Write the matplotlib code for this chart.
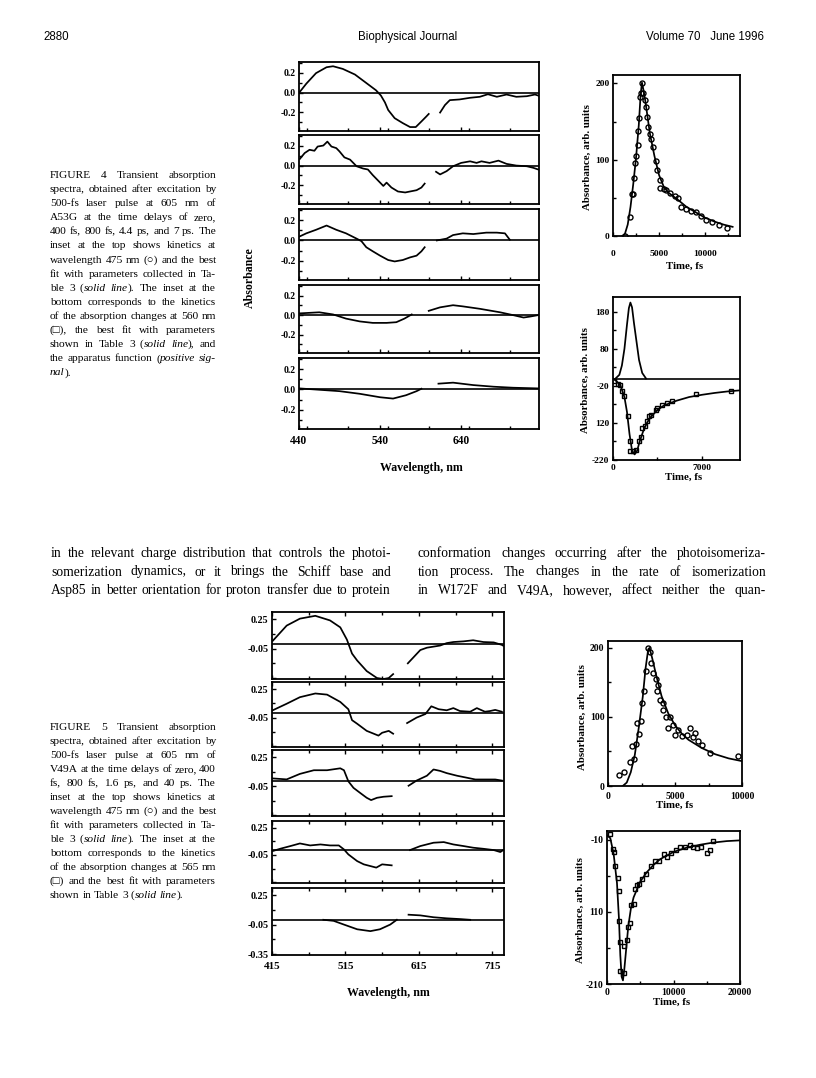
import matplotlib
matplotlib.use("Agg")
import matplotlib.pyplot as plt
from matplotlib.ticker import FixedLocator, FixedFormatter, MultipleLocator

# ---------------------------------------------------------------
# data
# ---------------------------------------------------------------
# Figure 4 (A53G) spectra: each panel = list of segments of (nm, dA)
f4_p1 = [
    [(441, 0.007), (449, 0.09), (461, 0.197), (474, 0.257), (482, 0.267), (494, 0.24),
     (509, 0.183), (523, 0.097), (535, 0.023), (541, -0.03), (546, -0.1), (550, -0.177),
     (558, -0.26), (568, -0.31), (577, -0.35), (584, -0.35), (591, -0.293), (597, -0.243), (600, -0.217)],
    [(614, -0.203), (620, -0.127), (626, -0.077), (638, -0.07), (651, -0.053), (663, -0.043),
     (673, -0.017), (684, -0.043), (696, -0.02), (708, -0.043), (721, -0.037), (731, -0.02), (736, -0.033)],
]
f4_p2 = [
    [(441, 0.067), (447, 0.127), (453, 0.16), (459, 0.15), (463, 0.193), (470, 0.203), (475, 0.243),
     (480, 0.193), (486, 0.177), (490, 0.143), (496, 0.083), (503, 0.06), (511, -0.007), (519, -0.03),
     (525, -0.04), (531, -0.097), (540, -0.173), (544, -0.207), (548, -0.173), (554, -0.223),
     (562, -0.263), (571, -0.273), (577, -0.263), (585, -0.25), (591, -0.223), (595, -0.183)],
    [(609, -0.063), (614, -0.09), (622, -0.057), (630, -0.007), (640, 0.027), (651, 0.043),
     (659, 0.027), (665, 0.043), (675, 0.027), (686, 0.05), (696, 0.017), (708, 0.0),
     (721, -0.007), (729, -0.023), (735, -0.04)],
]
f4_p3 = [
    [(441, 0.04), (449, 0.07), (461, 0.105), (474, 0.147), (486, 0.105), (498, 0.07), (511, 0.018),
     (517, -0.007), (523, -0.067), (531, -0.107), (540, -0.15), (550, -0.193), (558, -0.207),
     (568, -0.193), (577, -0.167), (585, -0.15), (591, -0.107), (595, -0.067)],
    [(610, 0.0), (622, 0.018), (630, 0.053), (642, 0.07), (655, 0.063), (671, 0.077),
     (684, 0.077), (694, 0.07), (700, 0.007)],
]
f4_p4 = [
    [(441, 0.018), (465, 0.029), (482, 0.007), (498, -0.036), (515, -0.065), (531, -0.08),
     (548, -0.08), (560, -0.073), (570, -0.036), (579, 0.007)],
    [(600, 0.044), (614, 0.08), (630, 0.102), (642, 0.09), (663, 0.065), (688, 0.029),
     (704, 0.0), (717, -0.025), (725, -0.015), (735, 0.0)],
]
f4_p5 = [
    [(441, 0.01), (490, -0.017), (515, -0.043), (540, -0.077), (556, -0.09), (572, -0.057),
     (585, -0.017), (591, 0.007)],
    [(612, 0.057), (630, 0.067), (655, 0.043), (680, 0.027), (704, 0.017), (736, 0.01)],
]
f4_panels = [f4_p1, f4_p2, f4_p3, f4_p4, f4_p5]

# Figure 4 top inset: kinetics at 475 nm (circles) and fit
f4_top_t = [1340, 1810, 2030, 2170, 2280, 2390, 2540, 2720, 2720, 2830, 2900, 3080, 3190, 3260,
            3440, 3620, 3730, 3800, 3990, 4090, 4350, 4640, 4780, 5070, 5140, 5510, 5800, 6160,
            6700, 7070, 7430, 7970, 8510, 9060, 9600, 10140, 10800, 11500, 12400]
f4_top_v = [0, 25, 55, 55, 76, 96, 105, 119, 137, 155, 182, 188, 200, 188,
            178, 169, 156, 143, 134, 127, 116, 98, 86, 74, 63, 62, 60, 57,
            53, 50, 38, 36, 33, 31, 26, 21, 18, 15, 11]
f4_fit_t = [1000, 1300, 1600, 1900, 2200, 2500, 2800, 3000, 3150, 3300, 3500, 4000, 4500,
            5000, 5500, 6000, 7000, 8000, 9000, 10000, 11000, 12000, 13000]
f4_fit_v = [0, 3, 15, 38, 68, 102, 145, 185, 201, 192, 178, 135, 105,
            80, 65, 57, 48, 38, 31, 24, 19, 15, 12]

# Figure 4 bottom inset: kinetics at 560 nm (squares), fit, apparatus function
f4_bot_t = [80, 400, 580, 710, 870, 1190, 1320, 1370, 1580, 1850, 2030, 2190, 2300, 2530,
            2640, 2850, 3030, 3380, 3480, 3830, 4220, 4620, 6540, 9300]
f4_bot_v = [-6, -15, -17, -33, -47, -100, -170, -195, -195, -193, -170, -159, -134, -128,
            -116, -101, -98, -85, -80, -71, -67, -62, -43, -35]
f4_bfit_t = [0, 300, 600, 900, 1100, 1300, 1500, 1700, 1900, 2100, 2400, 2700, 3000, 3500,
             4000, 5000, 6000, 7000, 8000, 9000, 10000]
f4_bfit_v = [0, -8, -20, -50, -90, -150, -195, -205, -195, -170, -140, -118, -103, -85,
             -73, -60, -50, -44, -39, -35, -32]
f4_app_t = [200, 500, 700, 900, 1100, 1250, 1370, 1500, 1650, 1850, 2050, 2300, 2600]
f4_app_v = [0, 10, 35, 80, 145, 190, 205, 192, 150, 100, 50, 15, 0]

# Figure 5 (V49A) spectra
f5_p1 = [
    [(416, 0.03), (435, 0.186), (453, 0.257), (474, 0.286), (494, 0.239), (508, 0.168),
     (517, 0.043), (524, -0.1), (531, -0.171), (544, -0.279), (558, -0.35), (567, -0.36),
     (574, -0.35), (580, -0.31)],
    [(600, -0.2), (608, -0.136), (617, -0.064), (626, -0.04), (644, -0.018), (653, 0.007),
     (662, 0.018), (676, 0.025), (689, 0.036), (703, 0.018), (717, 0.014), (728, -0.011), (730, -0.02)],
]
f5_p2 = [
    [(416, 0.027), (435, 0.096), (453, 0.165), (474, 0.204), (490, 0.192), (508, 0.115),
     (519, 0.038), (524, -0.077), (531, -0.115), (544, -0.19), (560, -0.24), (565, -0.21),
     (574, -0.19), (580, -0.22)],
    [(599, -0.108), (612, -0.05), (624, -0.012), (632, 0.069), (642, 0.038), (653, 0.027),
     (662, 0.05), (671, 0.019), (685, 0.012), (694, 0.05), (705, 0.012), (712, 0.019),
     (719, 0.031), (728, 0.012)],
]
f5_p3 = [
    [(416, 0.03), (435, 0.02), (453, 0.077), (472, 0.115), (490, 0.115), (508, 0.135),
     (513, 0.115), (519, 0.0), (526, -0.068), (535, -0.12), (544, -0.171), (550, -0.195),
     (558, -0.171), (567, -0.16), (578, -0.154)],
    [(601, -0.046), (612, 0.008), (626, 0.058), (635, 0.123), (644, 0.108), (653, 0.085),
     (667, 0.058), (680, 0.038), (692, 0.019), (707, 0.019), (719, 0.019), (728, 0.008)],
]
f5_p4 = [
    [(416, -0.007), (426, 0.018), (440, 0.048), (453, 0.077), (467, 0.055), (481, 0.066),
     (494, 0.055), (506, 0.055), (513, 0.011), (519, -0.044), (531, -0.118), (540, -0.154),
     (549, -0.173), (557, -0.19), (565, -0.154), (578, -0.165)],
    [(603, 0.004), (617, 0.048), (635, 0.085), (649, 0.092), (662, 0.066), (676, 0.048),
     (689, 0.03), (703, 0.018), (717, 0.004), (726, -0.018), (730, 0.004)],
]
f5_p5 = [
    [(485, 0.0), (499, -0.011), (513, -0.049), (531, -0.097), (549, -0.116), (562, -0.097),
     (576, -0.049), (585, 0.0)],
    [(601, 0.052), (617, 0.045), (635, 0.026), (653, 0.015), (672, 0.007), (685, 0.0)],
]
f5_panels = [f5_p1, f5_p2, f5_p3, f5_p4, f5_p5]

# Figure 5 top inset
f5_top_t = [840, 1210, 1660, 1910, 1780, 2100, 2200, 2350, 2480, 2570, 2720, 2850, 3020,
            3140, 3220, 3390, 3560, 3690, 3760, 3890, 4080, 4130, 4330, 4500, 4630, 4880,
            5000, 5250, 5500, 5870, 6110, 6360, 6490, 6730, 6980, 7600, 9700]
f5_top_v = [16, 20, 35, 39, 58, 61, 91, 76, 94, 120, 137, 166, 200,
            194, 178, 164, 155, 137, 147, 125, 120, 110, 100, 84, 100, 88,
            74, 81, 72, 74, 84, 71, 77, 65, 60, 48, 44]
f5_fit_t = [1100, 1400, 1700, 2000, 2300, 2600, 2800, 3000, 3100, 3300, 3600, 4000, 4500,
            5000, 5500, 6000, 7000, 8000, 9000, 10000]
f5_fit_v = [0, 5, 20, 45, 85, 130, 170, 198, 200, 185, 160, 130, 105,
            88, 76, 67, 55, 46, 40, 36]

# Figure 5 bottom inset
f5_bot_t = [500, 850, 1100, 1250, 1600, 1850, 1850, 2000, 2000, 2500, 2600, 3000, 3100, 3500,
            3600, 4000, 4250, 4500, 4850, 5250, 5850, 6650, 7250, 7750, 8500, 9000, 9600,
            10400, 11000, 11750, 12500, 13000, 13500, 14150, 15000, 15500, 15900]
f5_bot_v = [-2, -23, -27, -46, -63, -81, -123, -152, -192, -195, -158, -149, -131, -125,
            -100, -99, -79, -73, -71, -65, -58, -47, -39, -40, -30, -34, -28,
            -24, -20, -20, -18, -20, -22, -20, -28, -24, -12]
f5_bfit_t = [0, 500, 1000, 1500, 1800, 2000, 2200, 2400, 2600, 2900, 3200, 3600, 4000, 5000,
             6000, 7000, 8000, 9000, 10000, 12000, 14000, 16000, 18000, 20000]
f5_bfit_v = [-4, -8, -30, -70, -120, -170, -200, -205, -190, -160, -130, -105, -90, -68,
             -55, -45, -37, -32, -27, -21, -17, -14, -12, -11]

# page text
header_left = "2880"
header_mid = "Biophysical Journal"
header_right = "Volume 70   June 1996"

cap4 = [
    "FIGURE 4  Transient absorption",
    "spectra, obtained after excitation by",
    "500-fs laser pulse at 605 nm of",
    "A53G at the time delays of zero,",
    "400 fs, 800 fs, 4.4 ps, and 7 ps. The",
    "inset at the top shows kinetics at",
    "wavelength 475 nm (\u25cb) and the best",
    "fit with parameters collected in Ta-",
    "ble 3 (*solid line*). The inset at the",
    "bottom corresponds to the kinetics",
    "of the absorption changes at 560 nm",
    "(\u25a1), the best fit with parameters",
    "shown in Table 3 (*solid line*), and",
    "the apparatus function (*positive sig-*",
    "*nal*).",
]
cap5 = [
    "FIGURE 5  Transient absorption",
    "spectra, obtained after excitation by",
    "500-fs laser pulse at 605 nm of",
    "V49A at the time delays of zero, 400",
    "fs, 800 fs, 1.6 ps, and 40 ps. The",
    "inset at the top shows kinetics at",
    "wavelength 475 nm (\u25cb) and the best",
    "fit with parameters collected in Ta-",
    "ble 3 (*solid line*). The inset at the",
    "bottom corresponds to the kinetics",
    "of the absorption changes at 565 nm",
    "(\u25a1) and the best fit with parameters",
    "shown in Table 3 (*solid line*).",
]
body_left = [
    "in the relevant charge distribution that controls the photoi-",
    "somerization dynamics, or it brings the Schiff base and",
    "Asp85 in better orientation for proton transfer due to protein",
]
body_right = [
    "conformation changes occurring after the photoisomeriza-",
    "tion process. The changes in the rate of isomerization",
    "in W172F and V49A, however, affect neither the quan-",
]

# ---------------------------------------------------------------
W, H = 816, 1078
SERIF = ["Liberation Serif", "DejaVu Serif"]
SANS = ["Liberation Sans", "DejaVu Sans"]
plt.rcParams["font.family"] = SERIF
plt.rcParams["font.weight"] = "bold"

fig = plt.figure(figsize=(W / 100, H / 100), dpi=100)
renderer = fig.canvas.get_renderer()

LW = 1.25


def px_axes(x0, y0, x1, y1):
    return fig.add_axes([x0 / W, 1 - y1 / H, (x1 - x0) / W, (y1 - y0) / H])


def frame(ax, xsize=6.8, ysize=6.8):
    for s in ax.spines.values():
        s.set_linewidth(1.3)
    ax.tick_params(which="both", direction="in", width=1.0, pad=2.5)
    ax.tick_params(axis="x", labelsize=xsize)
    ax.tick_params(axis="y", labelsize=ysize)
    ax.tick_params(which="major", length=3)
    ax.tick_params(which="minor", length=2)


def fixed_ticks(axis, vals, labels):
    axis.set_major_locator(FixedLocator(vals))
    axis.set_major_formatter(FixedFormatter(labels))


def ftext(x, y, s, **kw):
    return fig.text(x / W, 1 - y / H, s, **kw)


# ── justified text helpers ────────────────────────────────────
def parse_words(line):
    words, cur, buf, italic = [], [], "", False
    for ch in line:
        if ch == "*":
            if buf:
                cur.append((buf, italic))
                buf = ""
            italic = not italic
        elif ch == " ":
            if buf:
                cur.append((buf, italic))
                buf = ""
            if cur:
                words.append(cur)
                cur = []
        else:
            buf += ch
    if buf:
        cur.append((buf, italic))
    if cur:
        words.append(cur)
    return words


def measure(s, italic, size, family):
    t = fig.text(0, 0, s, fontsize=size, family=family, weight="normal",
                 style="italic" if italic else "normal")
    w = t.get_window_extent(renderer).width
    t.remove()
    return w


def put_line(line, x0, x1, y, size, family=SERIF, justify=True):
    words = parse_words(line)
    widths = [[measure(s, it, size, family) for s, it in w] for w in words]
    total = sum(sum(ws) for ws in widths)
    space = measure("a a", False, size, family) - measure("aa", False, size, family)
    gap = space
    if justify and len(words) > 1:
        gap = max((x1 - x0 - total) / (len(words) - 1), 1.5)
    x = x0
    for w, ws in zip(words, widths):
        for (s, it), wd in zip(w, ws):
            ftext(x, y, s, fontsize=size, family=family, weight="normal",
                  style="italic" if it else "normal", ha="left", va="baseline")
            x += wd
        x += gap


def put_block(lines, x0, x1, y0, step, size, last_free=True):
    for i, ln in enumerate(lines):
        last = last_free and i == len(lines) - 1
        put_line(ln, x0, x1, y0 + i * step, size, justify=not last)


# ── header ────────────────────────────────────────────────────
ftext(43, 40, header_left, fontsize=8.3, family=SANS, weight="normal", va="baseline")
ftext(408, 40, header_mid, fontsize=8.3, family=SANS, weight="normal", ha="center", va="baseline")
ftext(764, 40, header_right, fontsize=8.3, family=SANS, weight="normal", ha="right", va="baseline")

# ── Figure 4 main spectra ─────────────────────────────────────
f4_box = [(62, 131), (135, 204), (209, 280), (285, 353), (358, 429)]
for i, (segs, (t, b)) in enumerate(zip(f4_panels, f4_box)):
    ax = px_axes(299, t, 539, b)
    ax.set_xlim(440, 736)
    ax.set_ylim(-0.39, 0.31)
    ax.axhline(0, color="k", lw=1.2)
    for seg in segs:
        nm, dA = zip(*seg)
        ax.plot(nm, dA, color="k", lw=LW)
    frame(ax, xsize=8.3, ysize=7.0)
    fixed_ticks(ax.yaxis, [-0.2, 0.0, 0.2], ["-0.2", "0.0", "0.2"])
    ax.yaxis.set_minor_locator(FixedLocator([-0.3, -0.1, 0.1, 0.3]))
    last = i == len(f4_panels) - 1
    fixed_ticks(ax.xaxis, [440, 540, 640], ["440", "540", "640"] if last else ["", "", ""])
    ax.xaxis.set_minor_locator(MultipleLocator(50))
    ax.tick_params(axis="x", pad=4)

ftext(250, 278, "Absorbance", fontsize=8.6, rotation=90, ha="center", va="center")
ftext(421, 468, "Wavelength, nm", fontsize=8.6, ha="center", va="center")

# Figure 4 top inset
ax = px_axes(613, 75, 740, 236)
ax.plot(f4_fit_t, f4_fit_v, color="k", lw=LW)
ax.plot(f4_top_t, f4_top_v, "o", mfc="none", mec="k", ms=3.6, mew=1.0)
ax.set_xlim(0, 13800)
ax.set_ylim(0, 211)
frame(ax)
fixed_ticks(ax.yaxis, [0, 100, 200], ["0", "100", "200"])
ax.yaxis.set_minor_locator(FixedLocator([50, 150]))
fixed_ticks(ax.xaxis, [0, 5000, 10000], ["0", "5000", "10000"])
ax.xaxis.set_minor_locator(FixedLocator([2500, 7500, 12500]))
ax.tick_params(axis="x", pad=10)
ftext(587, 157, "Absorbance, arb. units", fontsize=7.8, rotation=90, ha="center", va="center")
ftext(685, 266, "Time, fs", fontsize=7.8, ha="center", va="center")

# Figure 4 bottom inset
ax = px_axes(613, 297, 740, 460)
ax.axhline(0, color="k", lw=1.2)
ax.plot(f4_app_t, f4_app_v, color="k", lw=LW)
ax.plot(f4_bfit_t, f4_bfit_v, color="k", lw=LW)
ax.plot(f4_bot_t, f4_bot_v, "s", mfc="none", mec="k", ms=3.4, mew=1.0)
ax.set_xlim(0, 10000)
ax.set_ylim(-220, 220)
frame(ax)
fixed_ticks(ax.yaxis, [-220, -120, -20, 80, 180], ["-220", "120", "-20", "80", "180"])
ax.yaxis.set_minor_locator(FixedLocator([-170, -70, 30, 130]))
fixed_ticks(ax.xaxis, [0, 7000], ["0", "7000"])
ax.xaxis.set_minor_locator(FixedLocator([3500]))
ax.tick_params(axis="x", pad=3)
ftext(585, 380, "Absorbance, arb. units", fontsize=7.8, rotation=90, ha="center", va="center")
ftext(684, 477, "Time, fs", fontsize=7.8, ha="center", va="center")

# ── Figure 5 main spectra ─────────────────────────────────────
f5_box = [(612, 679), (682, 747), (750, 816), (821, 883), (888, 955)]
for i, (segs, (t, b)) in enumerate(zip(f5_panels, f5_box)):
    ax = px_axes(272, t, 504, b)
    ax.set_xlim(415, 731)
    ax.set_ylim(-0.36, 0.325)
    ax.axhline(0, color="k", lw=1.2)
    for seg in segs:
        nm, dA = zip(*seg)
        ax.plot(nm, dA, color="k", lw=LW)
    frame(ax, xsize=8.0, ysize=7.2)
    last = i == len(f5_panels) - 1
    fixed_ticks(ax.yaxis, [-0.35, -0.05, 0.25], ["-0.35" if last else "", "-0.05", "0.25"])
    ax.yaxis.set_minor_locator(FixedLocator([-0.2, 0.1]))
    fixed_ticks(ax.xaxis, [415, 515, 615, 715],
                ["415", "515", "615", "715"] if last else ["", "", "", ""])
    ax.xaxis.set_minor_locator(FixedLocator([465, 565, 665]))
    ax.tick_params(axis="x", which="both", top=True, pad=5)

ftext(388, 993, "Wavelength, nm", fontsize=8.6, ha="center", va="center")

# Figure 5 top inset
ax = px_axes(608, 641, 742, 786)
ax.plot(f5_fit_t, f5_fit_v, color="k", lw=LW)
ax.plot(f5_top_t, f5_top_v, "o", mfc="none", mec="k", ms=3.6, mew=1.0)
ax.set_xlim(0, 10000)
ax.set_ylim(0, 210)
frame(ax, xsize=7.0, ysize=7.0)
fixed_ticks(ax.yaxis, [0, 100, 200], ["0", "100", "200"])
ax.yaxis.set_minor_locator(FixedLocator([50, 150]))
fixed_ticks(ax.xaxis, [0, 5000, 10000], ["0", "5000", "10000"])
ax.xaxis.set_minor_locator(FixedLocator([2500, 7500]))
ax.tick_params(axis="x", pad=4)
ftext(582, 717, "Absorbance, arb. units", fontsize=7.8, rotation=90, ha="center", va="center")
ftext(675, 805, "Time, fs", fontsize=7.8, ha="center", va="center")

# Figure 5 bottom inset
ax = px_axes(607, 831, 740, 984)
ax.plot(f5_bfit_t, f5_bfit_v, color="k", lw=LW)
ax.plot(f5_bot_t, f5_bot_v, "s", mfc="none", mec="k", ms=3.4, mew=1.0)
ax.set_xlim(0, 20000)
ax.set_ylim(-210, 2)
frame(ax, xsize=7.0, ysize=7.0)
fixed_ticks(ax.yaxis, [-210, -110, -10], ["-210", "110", "-10"])
ax.yaxis.set_minor_locator(FixedLocator([-160, -60]))
fixed_ticks(ax.xaxis, [0, 10000, 20000], ["0", "10000", "20000"])
ax.xaxis.set_minor_locator(FixedLocator([5000, 15000]))
ax.tick_params(axis="x", pad=3)
ftext(580, 910, "Absorbance, arb. units", fontsize=7.8, rotation=90, ha="center", va="center")
ftext(672, 1002, "Time, fs", fontsize=7.8, ha="center", va="center")

# ── captions and body text ───────────────────────────────────
put_block(cap4, 50, 216, 178, 14.1, 8.2)
put_block(cap5, 50, 216, 730, 14.0, 8.2)
put_block(body_left, 51, 391, 557, 18.5, 9.8, last_free=False)
put_block(body_right, 418, 766, 557, 18.5, 9.8, last_free=False)

fig.savefig("out.png", dpi=100)
